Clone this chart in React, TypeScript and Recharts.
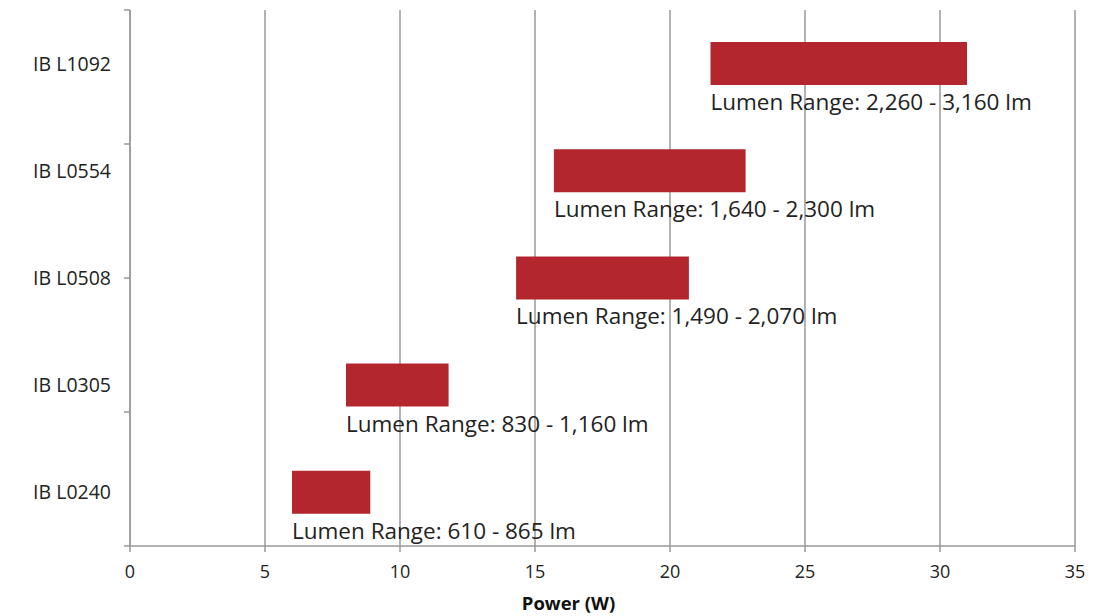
import { BarChart, Bar, XAxis, YAxis, CartesianGrid, LabelList, Label } from "recharts";

// products, top to bottom
const products = ["IB L1092", "IB L0554", "IB L0508", "IB L0305", "IB L0240"];
// power range in watts
const powerMin = [21.5, 15.7, 14.3, 8.0, 6.0];
const powerMax = [31.0, 22.8, 20.7, 11.8, 8.9];
// lumen ranges
const lumenMin = ["2,260", "1,640", "1,490", "830", "610"];
const lumenMax = ["3,160", "2,300", "2,070", "1,160", "865"];
const powerTicks = [0, 5, 10, 15, 20, 25, 30, 35];
const edgeTicks = [0, 1, 2, 3, 4, 5];

const data = products.map((name, i) => ({
    name,
    power: [powerMin[i], powerMax[i]],
    lumens: `Lumen Range: ${lumenMin[i]} - ${lumenMax[i]} lm`,
}));

const FONT = "'Open Sans', sans-serif";

const RangeLabel = (props: any) => {
    const { x, y, height, value } = props;
    return (
        <text x={x} y={y + height + 25} fill="#222" fontSize={22.5} fontFamily={FONT}>
            {value}
        </text>
    );
};

const App = () => {
    return (
        <div style={{ position: "absolute", left: 0, top: 0 }}>
            <BarChart
                width={1101}
                height={616}
                data={data}
                layout="vertical"
                margin={{ top: 10, right: 26, left: 9, bottom: 0 }}
                barCategoryGap={32}
            >
                <CartesianGrid horizontal={false} stroke="#999" strokeWidth={1.5} />
                <XAxis
                    type="number"
                    domain={[0, 35]}
                    ticks={powerTicks}
                    stroke="#999"
                    strokeWidth={1.5}
                    tickSize={6}
                    tickMargin={13}
                    height={70}
                    tick={{ fill: "#222", fontSize: 18, fontFamily: FONT }}
                >
                    <Label
                        value="Power (W)"
                        position="insideBottom"
                        dx={-34}
                        offset={6}
                        style={{ fill: "#111", fontSize: 18.5, fontWeight: 700, fontFamily: FONT }}
                    />
                </XAxis>
                <YAxis
                    yAxisId="a"
                    type="number"
                    domain={[0, 5]}
                    ticks={edgeTicks}
                    width={1}
                    stroke="#999"
                    strokeWidth={1.5}
                    tickSize={6}
                    tickFormatter={() => ""}
                />
                <YAxis
                    yAxisId="z"
                    type="category"
                    dataKey="name"
                    width={120}
                    axisLine={false}
                    tickLine={false}
                    tickSize={0}
                    tickMargin={18}
                    tick={{ fill: "#222", fontSize: 19.5, fontFamily: FONT }}
                />
                <Bar yAxisId="z" dataKey="power" fill="#b3262e" isAnimationActive={false}>
                    <LabelList dataKey="lumens" content={RangeLabel} />
                </Bar>
            </BarChart>
        </div>
    );
};

export default App;
